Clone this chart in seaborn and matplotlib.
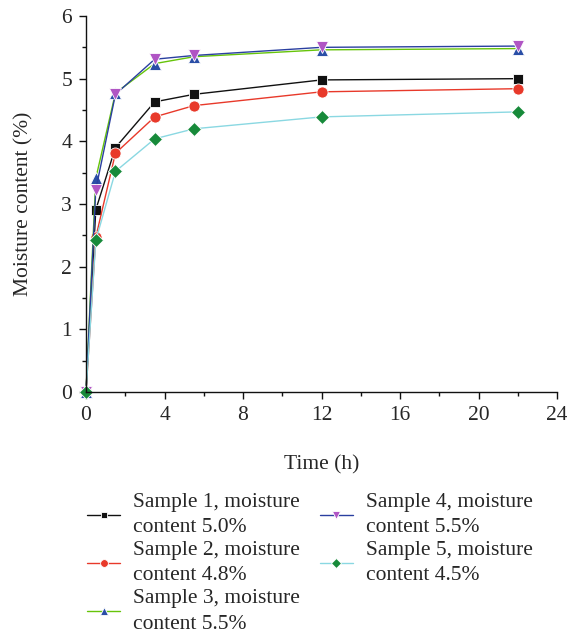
import numpy as np
import pandas as pd
import matplotlib
matplotlib.use("Agg")
import matplotlib.pyplot as plt
import seaborn as sns

time_h = [0, 0.5, 1.5, 3.5, 5.5, 12, 22]
sample1 = [0, 2.91, 3.90, 4.63, 4.75, 4.98, 5.00]
sample2 = [0, 2.47, 3.81, 4.39, 4.57, 4.79, 4.84]
sample3 = [0, 3.41, 4.77, 5.24, 5.35, 5.46, 5.48]
sample4 = [0, 3.23, 4.75, 5.31, 5.37, 5.50, 5.52]
sample5 = [0, 2.42, 3.52, 4.04, 4.20, 4.39, 4.47]
labels = ["Sample 1, moisture\ncontent 5.0%",
          "Sample 2, moisture\ncontent 4.8%",
          "Sample 3, moisture\ncontent 5.5%",
          "Sample 4, moisture\ncontent 5.5%",
          "Sample 5, moisture\ncontent 4.5%"]
x_ticks = [0, 4, 8, 12, 16, 20, 24]
y_ticks = [0, 1, 2, 3, 4, 5, 6]

sns.set_theme(style="ticks")
plt.rcParams['font.family'] = ['Liberation Serif', 'DejaVu Serif']
FS = 15.5
plt.rcParams['font.size'] = FS

fig = plt.figure(figsize=(5.67, 6.37), dpi=100)
ax = fig.add_axes([86/567, 1-392/637, (557-86)/567, (392-16)/637])

series = [sample1, sample2, sample3, sample4, sample5]
line_colors = ["#111111", "#e8392a", "#66c40a", "#2a3fa0", "#8ad8e2"]
marker_colors = ["#111111", "#e8392a", "#2a4ea6", "#b055c4", "#178a3a"]
markers = ["s", "o", "^", "v", "D"]
msizes = [7, 8, 8, 8, 7]

for vals, lab, lc, mc, mk, ms in zip(series, labels, line_colors, marker_colors, markers, msizes):
    df = pd.DataFrame({"t": time_h, "m": vals})
    sns.lineplot(data=df, x="t", y="m", ax=ax, color=lc, linewidth=1.0,
                 marker=mk, markersize=ms, markerfacecolor=mc,
                 markeredgecolor="white", markeredgewidth=0.6,
                 label=lab, clip_on=False)

ax.set_xlim(0, 24)
ax.set_ylim(0, 6)
ax.set_xticks(x_ticks)
ax.set_yticks(y_ticks)
ax.set_xticks(np.arange(2, 24, 4), minor=True)
ax.set_yticks(np.arange(0.5, 6, 1), minor=True)
ax.tick_params(axis="both", which="major", direction="out", length=5, width=1,
               labelsize=FS, color="#111111", pad=5)
ax.tick_params(axis="both", which="minor", direction="out", length=3, width=1, color="#111111")
for s in ["top", "right"]:
    ax.spines[s].set_visible(False)
for s in ["left", "bottom"]:
    ax.spines[s].set_color("#111111")
    ax.spines[s].set_linewidth(1.0)

ax.set_xlabel("Time (h)", fontsize=FS, labelpad=22)
ax.set_ylabel("Moisture content (%)", fontsize=FS, labelpad=20)

handles, labs = ax.get_legend_handles_labels()
ax.get_legend().remove()
leg = fig.legend(handles, labs, loc="upper left", bbox_to_anchor=(87/567, 1-493/637),
                 ncol=2, frameon=False, fontsize=FS, borderpad=0, borderaxespad=0,
                 handlelength=1.55, handletextpad=0.6, columnspacing=0.9,
                 labelspacing=0.18, markerscale=0.7)
for t in leg.get_texts():
    t.set_linespacing(1.45)

fig.savefig("out.png", dpi=100)
